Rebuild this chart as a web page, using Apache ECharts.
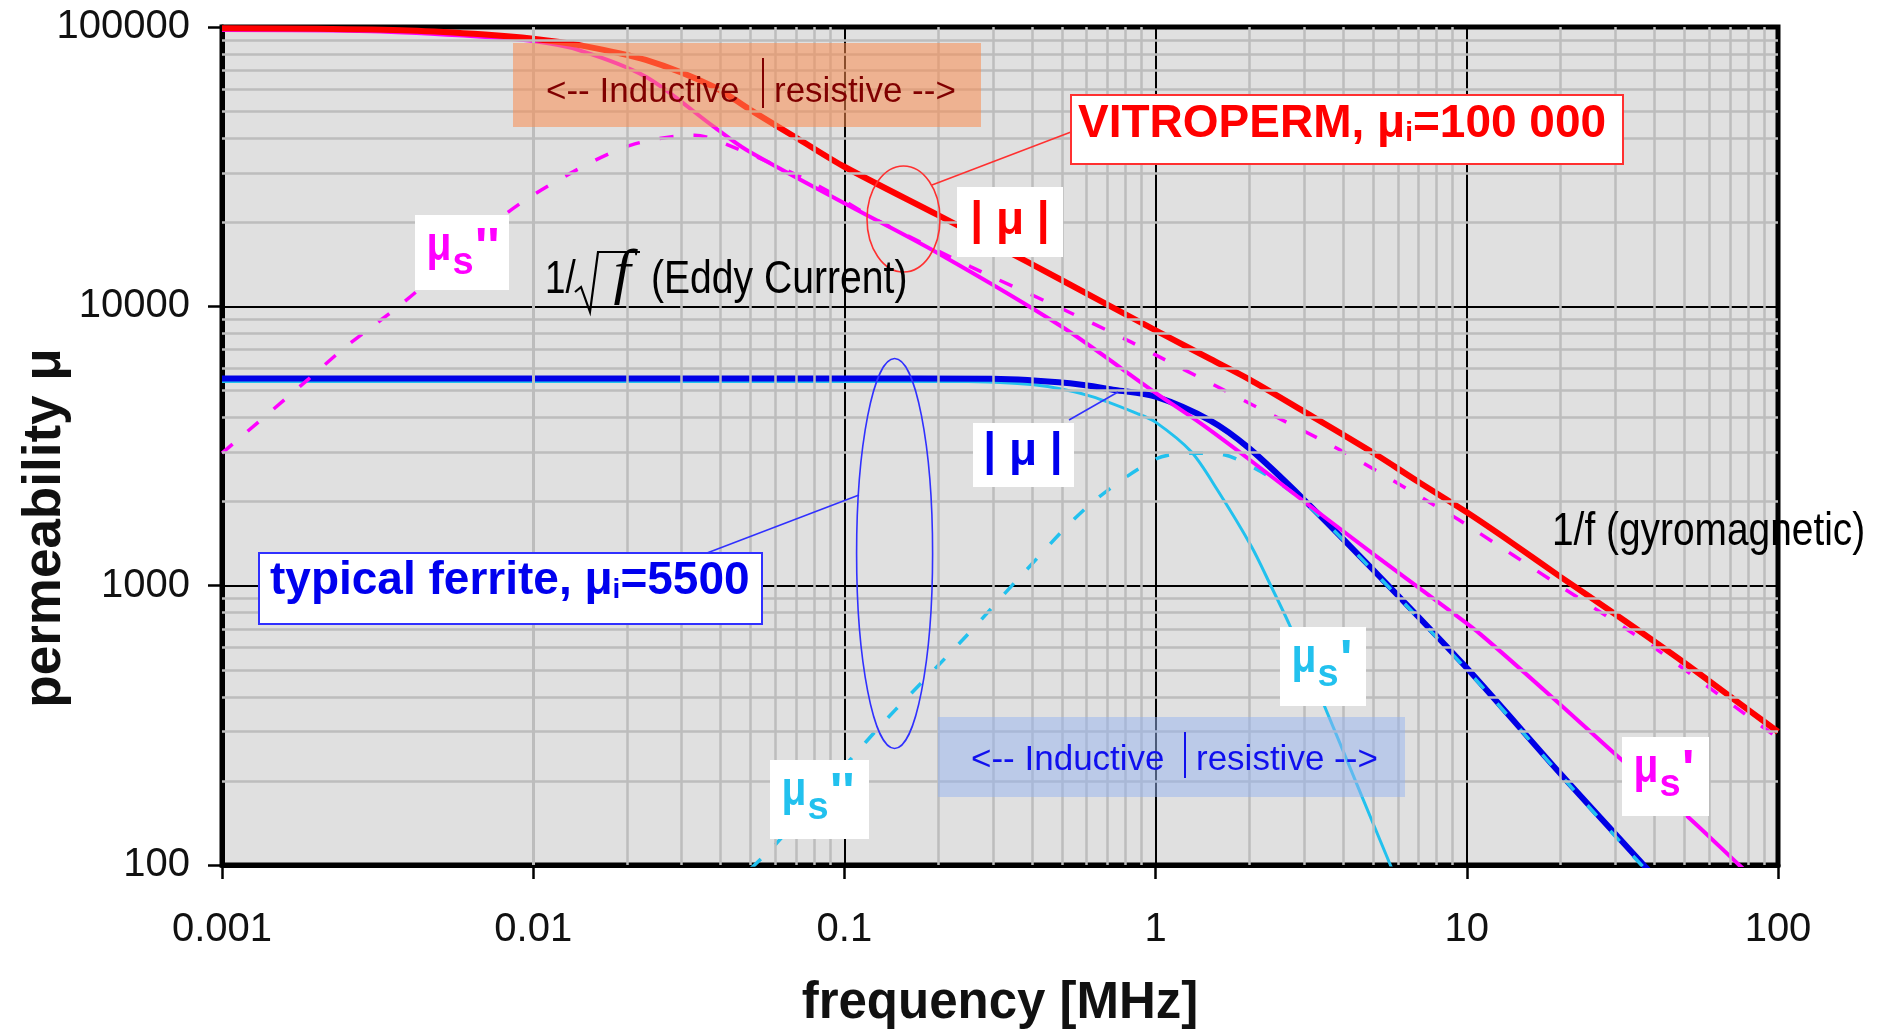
<!DOCTYPE html>
<html>
<head>
<meta charset="utf-8">
<title>Permeability vs frequency</title>
<script src="https://cdn.jsdelivr.net/npm/echarts@6/dist/echarts.min.js"></script>
<style>
  html, body { margin: 0; padding: 0; background: #fff; }
  #permChart { width: 1878px; height: 1030px; }
</style>
</head>
<body>
<div id="permChart"></div>
<script>
// axis tick labels
const xTickLabels = ['0.001', '0.01', '0.1', '1', '10', '100'];
const yTickLabels = ['100', '1000', '10000', '100000'];

// VITROPERM, mu_i = 100 000   -> [frequency MHz, permeability]
const vitroMuAbs = [[0.001, 99000], [0.002, 98600], [0.004, 97200], [0.007, 94000], [0.01, 90800],
  [0.014, 86200], [0.023, 76200], [0.038, 61100], [0.05, 50400], [0.072, 39400], [0.1, 31600],
  [0.2, 21200], [0.3, 16750], [0.5, 12400], [1, 8200], [1.5, 6480], [2, 5480], [3, 4200],
  [5, 2990], [7, 2350], [10, 1830], [14, 1420], [20, 1075], [30, 790], [50, 530], [70, 402], [100, 300]];
const vitroMuReal = [[0.001, 97500], [0.003, 96500], [0.0068, 92300], [0.01, 89000], [0.014, 82700],
  [0.023, 66400], [0.038, 44000], [0.0485, 36300], [0.1, 23400], [0.2, 15500], [0.5, 8450],
  [1, 4900], [1.4, 3800], [2, 2830], [2.86, 2085], [5, 1300], [8.7, 822], [11.1, 668],
  [20, 375], [31.3, 239], [51.6, 148], [75, 100], [85, 88]];
const vitroMuImag = [[0.001, 2980], [0.0019, 5500], [0.0025, 7170], [0.0039, 10500], [0.0082, 21500],
  [0.0125, 29000], [0.0205, 37700], [0.033, 41000], [0.0414, 38200], [0.08, 27500], [0.128, 20300],
  [0.255, 13850], [0.51, 9700], [0.81, 7570], [1, 6700], [2, 4500], [4, 3020], [8, 1920],
  [10, 1650], [20, 995], [40, 600], [80, 341], [100, 285]];

// typical ferrite, mu_i = 5500
const ferriteMuAbs = [[0.001, 5520], [0.1, 5520], [0.3, 5500], [0.53, 5300], [0.74, 5020], [1, 4750],
  [1.5, 3900], [2, 3100], [3, 2030], [5, 1140], [10, 507], [20, 212], [37, 100], [42, 86]];
const ferriteMuReal = [[0.001, 5380], [0.25, 5380], [0.35, 5300], [0.45, 5160], [0.625, 4750],
  [0.87, 4140], [1, 3850], [1.3, 3020], [1.58, 2200], [2.03, 1384], [2.35, 995], [2.69, 726],
  [3.49, 370], [4.5, 187], [5.68, 100], [6.2, 80]];
const ferriteMuImag = [[0.05, 97], [0.0607, 120], [0.118, 278], [0.146, 360], [0.24, 640],
  [0.368, 1080], [0.605, 1920], [1, 2840], [1.3, 2980], [1.66, 2940], [2.08, 2635], [2.59, 2265],
  [3.2, 1870], [5, 1130], [10, 500], [20, 210], [37, 98], [42, 86]];

const FONT = '"Liberation Sans", Arial, sans-serif';
const RED = '#ff0000', MAGENTA = '#ff00ff', BLUE = '#0000e6', CYAN = '#22c1ee';

// minor log grid positions (2..9 in every decade)
const minorX = [], minorY = [];
for (let e = -3; e < 2; e++) for (let m = 2; m < 10; m++) minorX.push({ xAxis: m * Math.pow(10, e) });
for (let e = 2; e < 5; e++) for (let m = 2; m < 10; m++) minorY.push({ yAxis: m * Math.pow(10, e) });

const chart = echarts.init(document.getElementById('permChart'));

function curve(name, data, color, width, dashed) {
  return {
    name: name,
    type: 'line',
    data: data,
    showSymbol: false,
    symbol: 'none',
    smooth: 0.3,
    silent: true,
    animation: false,
    lineStyle: { color: color, width: width, type: dashed ? [14, 20] : 'solid' }
  };
}

// annotation helpers (pixel positions)
function box(x, y, w, h, fill, stroke) {
  return { type: 'rect', z: 100, silent: true, shape: { x: x, y: y, width: w, height: h },
    style: { fill: fill, stroke: stroke || null, lineWidth: stroke ? 2 : 0 } };
}
function txt(x, y, text, font, fill, align, sx) {
  return { type: 'text', z: 101, silent: true, x: x, y: y, scaleX: sx || 1,
    style: { text: text, font: font, fill: fill, textAlign: align || 'left',
      textVerticalAlign: 'middle', verticalAlign: 'middle' } };
}
function seg(x1, y1, x2, y2, color, w) {
  return { type: 'line', z: 101, silent: true, shape: { x1: x1, y1: y1, x2: x2, y2: y2 },
    style: { stroke: color, lineWidth: w || 1.5 } };
}
function ring(cx, cy, rx, ry, color) {
  return { type: 'ellipse', z: 101, silent: true, shape: { cx: cx, cy: cy, rx: rx, ry: ry },
    style: { fill: null, stroke: color, lineWidth: 1.6 } };
}
// white label "mu_s'" / "mu_s''"
function muLabel(x, y, w, h, color, primes) {
  return [
    box(x, y, w, h, '#ffffff'),
    txt(x + 24, y + 32, 'μ', 'bold 48px ' + FONT, color, 'center', 0.85),
    txt(x + 48, y + 49, 's', 'bold 38px ' + FONT, color, 'center'),
    txt(x + 60, y + 35, primes, 'bold 52px ' + FONT, color, 'left')
  ];
}
function boldRich(x, y, main1, sub, main2, color) {
  return { type: 'text', z: 101, silent: true, x: x, y: y,
    style: { text: '{a|' + main1 + '}{b|' + sub + '}{a|' + main2 + '}',
      textAlign: 'left', textVerticalAlign: 'middle', verticalAlign: 'middle',
      rich: {
        a: { font: 'bold 46px ' + FONT, fill: color, lineHeight: 46, verticalAlign: 'bottom' },
        b: { font: 'bold 28px ' + FONT, fill: color, lineHeight: 20, verticalAlign: 'bottom' }
      } } };
}

const graphics = [].concat(
  // orange inductive / resistive band
  [box(513, 43, 468, 84, 'rgba(250,140,80,0.55)'),
   txt(546, 92, '<-- Inductive', '35px ' + FONT, '#800000'),
   seg(763, 58, 763, 108, '#800000', 2),
   txt(774, 92, 'resistive -->', '35px ' + FONT, '#800000')],
  // blue inductive / resistive band
  [box(938, 717, 467, 80, 'rgba(150,180,240,0.5)'),
   txt(971, 760, '<-- Inductive', '35px ' + FONT, '#1010ee'),
   seg(1185, 732, 1185, 778, '#1010ee', 2),
   txt(1196, 760, 'resistive -->', '35px ' + FONT, '#1010ee')],
  // VITROPERM
  [seg(932, 185, 1071, 132, '#ff3030'),
   ring(903.5, 219, 36.5, 53, '#ff3030'),
   box(1071, 95, 552, 69, '#ffffff', '#ff3030'),
   boldRich(1078, 124, 'VITROPERM, μ', 'i', '=100 000', RED),
   box(957, 187, 106, 70, '#ffffff'),
   txt(1010, 221, '| μ |', 'bold 46px ' + FONT, RED, 'center')],
  // ferrite
  [seg(707, 553, 859, 495, '#3030ff'),
   ring(894.6, 553.5, 38, 195, '#3030ff'),
   box(259, 553, 503, 71, '#ffffff', '#3030ff'),
   boldRich(270, 581, 'typical ferrite, μ', 'i', '=5500', '#0000ee'),
   seg(1069, 420, 1118, 392, '#3030ff'),
   box(973, 423, 101, 64, '#ffffff'),
   txt(1023, 452, '| μ |', 'bold 46px ' + FONT, '#0000ee', 'center')],
  // mu_s labels
  muLabel(415, 215, 94, 75, MAGENTA, "''"),
  muLabel(1622, 737, 87, 79, MAGENTA, "'"),
  muLabel(1280, 627, 86, 79, CYAN, "'"),
  muLabel(770, 760, 99, 79, CYAN, "''"),
  // slope notes
  [txt(545, 280, '1/', '46px ' + FONT, '#000', 'left', 0.8),
   { type: 'polyline', z: 101, silent: true,
     shape: { points: [[575, 292], [581, 287], [590, 312], [598, 252], [640, 252]] },
     style: { stroke: '#000', lineWidth: 2.2, fill: null } },
   txt(622, 276, 'f', 'italic 62px "Liberation Serif", serif', '#000', 'center'),
   txt(651, 280, '(Eddy Current)', '46px ' + FONT, '#000', 'left', 0.85),
   txt(1552, 532, '1/f (gyromagnetic)', '46px ' + FONT, '#000', 'left', 0.845)],
  // y axis title
  [{ type: 'text', z: 101, silent: true, x: 45, y: 528, rotation: Math.PI / 2,
     style: { text: 'permeability μ', font: 'bold 53px ' + FONT, fill: '#111',
       textAlign: 'center', textVerticalAlign: 'middle', verticalAlign: 'middle' } }]
);

chart.setOption({
  animation: false,
  backgroundColor: '#ffffff',
  grid: {
    left: 222, right: 100, top: 27, bottom: 165,
    containLabel: false, outerBoundsMode: 'none',
    show: true, backgroundColor: '#e0e0e0', borderColor: '#000', borderWidth: 5
  },
  xAxis: {
    type: 'log', logBase: 10, min: 0.001, max: 100,
    name: 'frequency [MHz]', nameLocation: 'middle', nameGap: 113,
    nameTextStyle: { fontSize: 51, fontWeight: 'bold', color: '#111', fontFamily: FONT },
    axisLine: { show: true, lineStyle: { color: '#000', width: 5 } },
    axisTick: { show: true, length: 14, lineStyle: { color: '#000', width: 2.5 } },
    axisLabel: {
      margin: 45, fontSize: 40, color: '#111', fontFamily: FONT,
      formatter: function (v) { return xTickLabels[Math.round(Math.log10(v)) + 3] || ''; }
    },
    splitLine: { show: true, lineStyle: { color: '#000', width: 2 } }
  },
  yAxis: {
    type: 'log', logBase: 10, min: 100, max: 100000,
    axisLine: { show: true, lineStyle: { color: '#000', width: 5 } },
    axisTick: { show: true, length: 14, lineStyle: { color: '#000', width: 2.5 } },
    axisLabel: {
      margin: 32, fontSize: 40, color: '#111', fontFamily: FONT,
      formatter: function (v) { return yTickLabels[Math.round(Math.log10(v)) - 2] || ''; }
    },
    splitLine: { show: true, lineStyle: { color: '#000', width: 2 } }
  },
  series: [
    {
      name: 'minor grid', type: 'line', data: [], z: 1, silent: true, animation: false,
      markLine: {
        silent: true, symbol: 'none', animation: false,
        label: { show: false },
        lineStyle: { color: '#bdbdbd', width: 2.5, type: 'solid' },
        data: minorX.concat(minorY)
      }
    },
    curve('ferrite μs\'', ferriteMuReal, CYAN, 3, false),
    curve('ferrite |μ|', ferriteMuAbs, BLUE, 6, false),
    curve('ferrite μs\'\'', ferriteMuImag, CYAN, 3.5, true),
    curve('VITROPERM μs\'\'', vitroMuImag, MAGENTA, 3.5, true),
    curve('VITROPERM μs\'', vitroMuReal, MAGENTA, 4, false),
    curve('VITROPERM |μ|', vitroMuAbs, RED, 6, false)
  ],
  graphic: graphics
});
</script>
</body>
</html>
